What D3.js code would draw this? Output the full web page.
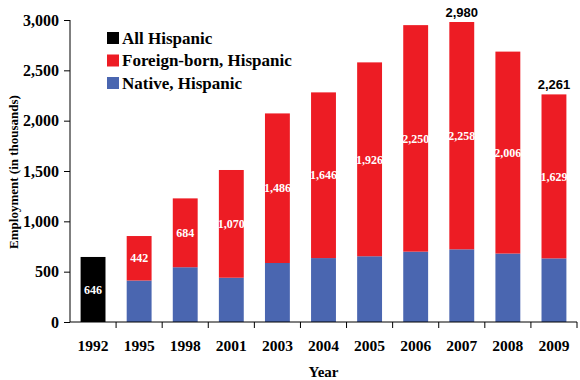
<!DOCTYPE html>
<html><head><meta charset="utf-8">
<script src="https://cdn.jsdelivr.net/npm/d3@7"></script>
<style>body{margin:0;background:#fff}svg{display:block}</style>
</head><body>
<svg id="c" width="580" height="380"></svg>
<script>
const years = ["1992","1995","1998","2001","2003","2004","2005","2006","2007","2008","2009"];
const allHispanic = [646,0,0,0,0,0,0,0,0,0,0];
const native = [0,412,544,440,586,635,653,699,722,680,632];
const foreign = [0,442,684,1070,1486,1646,1926,2250,2258,2006,1629];
const totalLabels = {"2007":"2,980","2009":"2,261"};
const yTicks = [0,500,1000,1500,2000,2500,3000];
const seriesNames = ["All Hispanic","Foreign-born, Hispanic","Native, Hispanic"];
const colors = ["#000000","#ED1C24","#4A66B0"];

const svg = d3.select("#c");
const L = 70, R = 577, T = 20, B = 322;
const x = d3.scaleBand().domain(years).range([L, R]).paddingInner(0.46).paddingOuter(0.23);
const y = d3.scaleLinear().domain([0,3000]).range([B, T]);
const serif = "'Liberation Serif','Times New Roman',serif";
const sans = "'Liberation Sans',Arial,sans-serif";

// bars
const g = svg.append("g");
years.forEach((yr,i)=>{
  const bx = x(yr), bw = x.bandwidth();
  if (allHispanic[i] > 0) {
    g.append("rect").attr("x",bx).attr("width",bw).attr("y",y(allHispanic[i])).attr("height",B - y(allHispanic[i])).attr("fill",colors[0]);
    g.append("text").attr("x",bx+bw/2).attr("y",(y(allHispanic[i])+B)/2).attr("dy","0.35em")
      .attr("text-anchor","middle").attr("fill","#fff").attr("font-family",serif).attr("font-weight","bold").attr("font-size",12)
      .text(d3.format(",")(allHispanic[i]));
  }
  if (native[i] > 0) {
    g.append("rect").attr("x",bx).attr("width",bw).attr("y",y(native[i])).attr("height",B - y(native[i])).attr("fill",colors[2]);
  }
  if (foreign[i] > 0) {
    const top = y(native[i]+foreign[i]), bot = y(native[i]);
    g.append("rect").attr("x",bx).attr("width",bw).attr("y",top).attr("height",bot-top).attr("fill",colors[1]);
    g.append("text").attr("x",bx+bw/2).attr("y",(top+bot)/2).attr("dy","0.35em")
      .attr("text-anchor","middle").attr("fill","#fff").attr("font-family",serif).attr("font-weight","bold").attr("font-size",12)
      .text(d3.format(",")(foreign[i]));
    if (totalLabels[yr]) {
      g.append("text").attr("x",bx+bw/2).attr("y",top-5)
        .attr("text-anchor","middle").attr("fill","#000").attr("font-family",sans).attr("font-weight","bold").attr("font-size",13)
        .text(totalLabels[yr]);
    }
  }
});

// y axis
const ya = svg.append("g").attr("transform",`translate(${L},0)`)
  .call(d3.axisLeft(y).tickValues(yTicks).tickFormat(d3.format(",")).tickSize(6).tickPadding(5));
ya.selectAll("text").attr("font-family",serif).attr("font-weight","bold").attr("font-size",16).attr("fill","#000");
ya.selectAll("line,path").attr("stroke","#000");
ya.select(".domain").attr("d",`M0,${T}V${B}`);

// x axis
const xa = svg.append("g").attr("transform",`translate(0,${B})`);
xa.append("line").attr("x1",L).attr("x2",R).attr("stroke","#000");
const boundaries = d3.range(1, years.length+1).map(k=> L + (R-L)*k/years.length);
xa.selectAll("line.t").data(boundaries).join("line").attr("class","t")
  .attr("x1",d=>d).attr("x2",d=>d).attr("y1",0).attr("y2",6).attr("stroke","#000");
xa.selectAll("text").data(years).join("text")
  .attr("x",d=>x(d)+x.bandwidth()/2).attr("y",24).attr("dy","0.35em").attr("text-anchor","middle")
  .attr("font-family",serif).attr("font-weight","bold").attr("font-size",15.5).text(d=>d);

svg.append("text").attr("x",(L+R)/2).attr("y",372).attr("dy","0.35em").attr("text-anchor","middle")
  .attr("font-family",serif).attr("font-weight","bold").attr("font-size",15).text("Year");
svg.append("text").attr("transform","translate(13,172) rotate(-90)").attr("dy","0.35em").attr("text-anchor","middle")
  .attr("font-family",serif).attr("font-weight","bold").attr("font-size",13).text("Employment (in thousands)");

// legend
const lg = svg.append("g");
seriesNames.forEach((n,i)=>{
  const cy = 38 + i*22.5;
  lg.append("rect").attr("x",107).attr("y",cy-6).attr("width",12).attr("height",12).attr("fill",colors[i]);
  lg.append("text").attr("x",122).attr("y",cy).attr("dy","0.35em").attr("font-family",serif).attr("font-weight","bold")
    .attr("font-size",17).attr("fill","#000").text(n);
});
</script>
</body></html>
